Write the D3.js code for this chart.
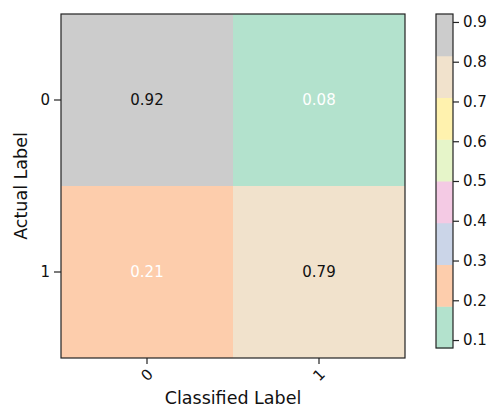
<!DOCTYPE html>
<html lang="en">
<head>
    <meta charset="UTF-8">
    <title>Confusion Matrix</title>
    <script src="https://d3js.org/d3.v7.min.js"></script>
    <style>
        body { margin: 0; background: white; }
        svg text { font-family: "DejaVu Sans", sans-serif; fill: #111; }
    </style>
</head>
<body>
    <div id="chart"></div>
    <script>
        // Data: rows = actual label, columns = classified label
        var actualLabels = ["0", "1"];
        var classifiedLabels = ["0", "1"];
        var matrixValues = [
            [0.92, 0.08],
            [0.21, 0.79]
        ];
        var colorbarTicks = [0.1, 0.2, 0.3, 0.4, 0.5, 0.6, 0.7, 0.8, 0.9];
        // Pastel2 colour map (8 discrete colours)
        var pastel2 = ["#b3e2cd", "#fdcdac", "#cbd5e8", "#f4cae4", "#e6f5c9", "#fff2ae", "#f1e2cc", "#cccccc"];

        var width = 491, height = 410;
        var plot = { left: 61, top: 14, size: 344 };
        var tickFont = "15px", labelFont = "17.5px";

        var svg = d3.select("#chart").append("svg")
            .attr("width", width)
            .attr("height", height);

        var cells = [];
        matrixValues.forEach((row, i) => row.forEach((v, j) => cells.push({ row: i, col: j, value: v })));

        var allValues = cells.map(d => d.value);
        var vmin = d3.min(allValues), vmax = d3.max(allValues);

        // Discrete colour lookup like a matplotlib ListedColormap
        function colorFor(v) {
            var t = (v - vmin) / (vmax - vmin);
            var idx = Math.min(pastel2.length - 1, Math.floor(t * pastel2.length));
            return pastel2[idx];
        }

        var x = d3.scaleBand().domain(classifiedLabels).range([plot.left, plot.left + plot.size]);
        var y = d3.scaleBand().domain(actualLabels).range([plot.top, plot.top + plot.size]);

        // Heatmap cells
        svg.selectAll("rect.cell")
            .data(cells)
            .enter().append("rect")
            .attr("class", "cell")
            .attr("x", d => x(classifiedLabels[d.col]))
            .attr("y", d => y(actualLabels[d.row]))
            .attr("width", x.bandwidth())
            .attr("height", y.bandwidth())
            .attr("fill", d => colorFor(d.value));

        // Value annotations
        var threshold = (vmin + vmax) / 2;
        svg.selectAll("text.val")
            .data(cells)
            .enter().append("text")
            .attr("class", "val")
            .attr("x", d => x(classifiedLabels[d.col]) + x.bandwidth() / 2)
            .attr("y", d => y(actualLabels[d.row]) + y.bandwidth() / 2)
            .attr("dy", "0.35em")
            .attr("text-anchor", "middle")
            .style("font-size", tickFont)
            .style("fill", d => d.value < threshold ? "#ffffff" : "#111111")
            .text(d => d.value.toFixed(2));

        // Frame
        svg.append("rect")
            .attr("x", plot.left).attr("y", plot.top)
            .attr("width", plot.size).attr("height", plot.size)
            .attr("fill", "none").attr("stroke", "#222").attr("stroke-width", 1.2);

        // Axes
        var xAxis = svg.append("g")
            .attr("transform", `translate(0,${plot.top + plot.size})`)
            .call(d3.axisBottom(x).tickSize(6).tickPadding(4));
        xAxis.select(".domain").remove();
        xAxis.selectAll("line").attr("stroke", "#222").attr("stroke-width", 1.2);
        xAxis.selectAll("text")
            .style("font-size", tickFont)
            .attr("text-anchor", "middle")
            .attr("y", 0)
            .attr("dy", "0.35em")
            .attr("transform", "translate(0,17) rotate(-45)");

        var yAxis = svg.append("g")
            .attr("transform", `translate(${plot.left},0)`)
            .call(d3.axisLeft(y).tickSize(7).tickPadding(4));
        yAxis.select(".domain").remove();
        yAxis.selectAll("line").attr("stroke", "#222").attr("stroke-width", 1.2);
        yAxis.selectAll("text").style("font-size", tickFont);

        // Axis titles
        svg.append("text")
            .attr("x", plot.left + plot.size / 2)
            .attr("y", 404)
            .attr("text-anchor", "middle")
            .style("font-size", labelFont)
            .text("Classified Label");

        svg.append("text")
            .attr("transform", `translate(27,${plot.top + plot.size / 2}) rotate(-90)`)
            .attr("text-anchor", "middle")
            .style("font-size", labelFont)
            .text("Actual Label");

        // Colour bar
        var cb = { left: 436, top: 14, width: 17, bottom: 348 };
        var cbScale = d3.scaleLinear().domain([vmin, vmax]).range([cb.bottom, cb.top]);
        var bands = d3.range(pastel2.length).map(i => ({
            lo: vmin + (vmax - vmin) * i / pastel2.length,
            hi: vmin + (vmax - vmin) * (i + 1) / pastel2.length,
            color: pastel2[i]
        }));
        svg.selectAll("rect.band")
            .data(bands)
            .enter().append("rect")
            .attr("class", "band")
            .attr("x", cb.left)
            .attr("y", d => cbScale(d.hi))
            .attr("width", cb.width)
            .attr("height", d => cbScale(d.lo) - cbScale(d.hi) + 0.5)
            .attr("fill", d => d.color);
        svg.append("rect")
            .attr("x", cb.left).attr("y", cb.top)
            .attr("width", cb.width).attr("height", cb.bottom - cb.top)
            .attr("fill", "none").attr("stroke", "#222").attr("stroke-width", 1.2);

        var cbAxis = svg.append("g")
            .attr("transform", `translate(${cb.left + cb.width},0)`)
            .call(d3.axisRight(cbScale).tickValues(colorbarTicks).tickFormat(d3.format(".1f")).tickSize(6).tickPadding(4));
        cbAxis.select(".domain").remove();
        cbAxis.selectAll("line").attr("stroke", "#222").attr("stroke-width", 1.2);
        cbAxis.selectAll("text").style("font-size", tickFont);
    </script>
</body>
</html>
